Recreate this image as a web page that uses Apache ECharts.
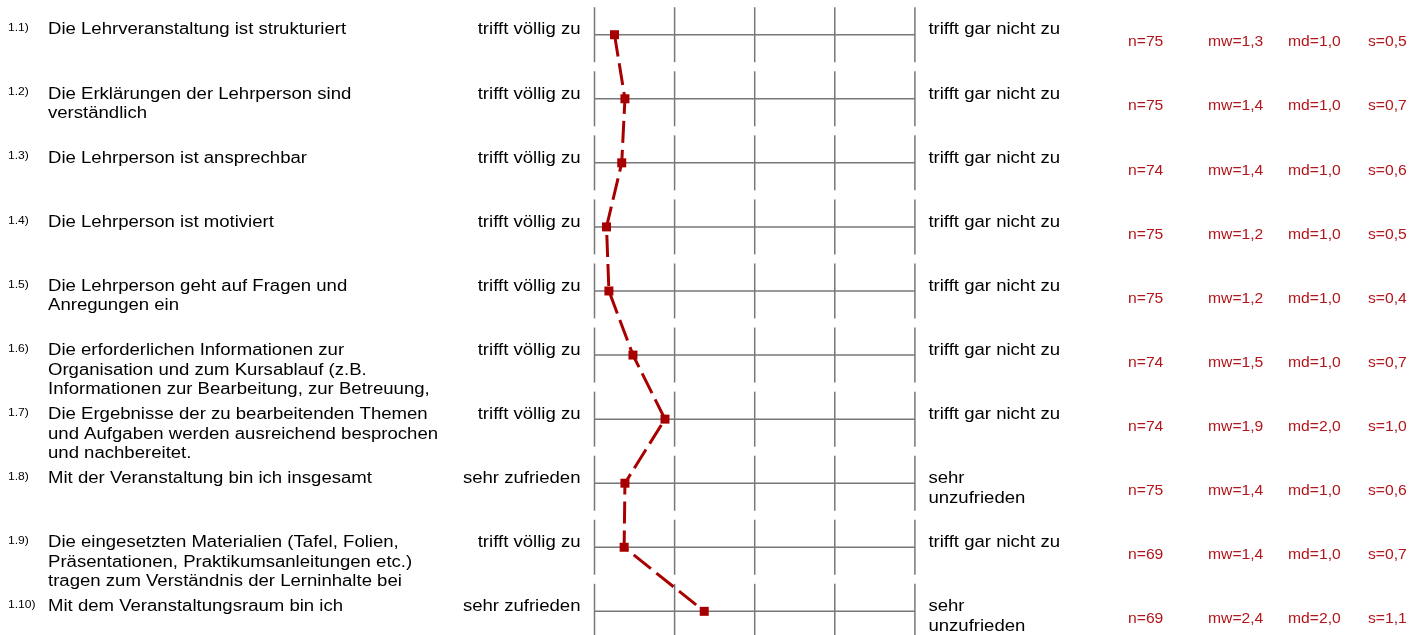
<!DOCTYPE html>
<html>
<head>
<meta charset="utf-8">
<script src="https://cdn.jsdelivr.net/npm/echarts@6/dist/echarts.min.js"></script>
<style>
html, body { margin: 0; padding: 0; background: #fff; }
#profile { width: 1410px; height: 635px; }
</style>
</head>
<body>
<div id="profile"></div>
<script>
// item numbers and question texts
var itemNo = ['1.1)', '1.2)', '1.3)', '1.4)', '1.5)', '1.6)', '1.7)', '1.8)', '1.9)', '1.10)'];
var itemText = [
    'Die Lehrveranstaltung ist strukturiert',
    'Die Erklärungen der Lehrperson sind\nverständlich',
    'Die Lehrperson ist ansprechbar',
    'Die Lehrperson ist motiviert',
    'Die Lehrperson geht auf Fragen und\nAnregungen ein',
    'Die erforderlichen Informationen zur\nOrganisation und zum Kursablauf (z.B.\nInformationen zur Bearbeitung, zur Betreuung,',
    'Die Ergebnisse der zu bearbeitenden Themen\nund Aufgaben werden ausreichend besprochen\nund nachbereitet.',
    'Mit der Veranstaltung bin ich insgesamt',
    'Die eingesetzten Materialien (Tafel, Folien,\nPräsentationen, Praktikumsanleitungen etc.)\ntragen zum Verständnis der Lerninhalte bei',
    'Mit dem Veranstaltungsraum bin ich'
];
// scale poles
var leftPole = ['trifft völlig zu', 'trifft völlig zu', 'trifft völlig zu', 'trifft völlig zu', 'trifft völlig zu',
                'trifft völlig zu', 'trifft völlig zu', 'sehr zufrieden', 'trifft völlig zu', 'sehr zufrieden'];
var rightPole = ['trifft gar nicht zu', 'trifft gar nicht zu', 'trifft gar nicht zu', 'trifft gar nicht zu', 'trifft gar nicht zu',
                 'trifft gar nicht zu', 'trifft gar nicht zu', 'sehr\nunzufrieden', 'trifft gar nicht zu', 'sehr\nunzufrieden'];
// 5-point scale
var scaleTicks = [1, 2, 3, 4, 5];
// mean position of each item
var means = [1.25, 1.38, 1.34, 1.15, 1.18, 1.48, 1.88, 1.38, 1.37, 2.37];
// statistics printed on the right
var nVals  = [75, 75, 74, 75, 75, 74, 74, 75, 69, 69];
var mwVals = ['1,3', '1,4', '1,4', '1,2', '1,2', '1,5', '1,9', '1,4', '1,4', '2,4'];
var mdVals = ['1,0', '1,0', '1,0', '1,0', '1,0', '1,0', '2,0', '1,0', '1,0', '2,0'];
var sVals  = ['0,5', '0,7', '0,6', '0,5', '0,4', '0,7', '1,0', '0,6', '0,7', '1,1'];

var rows = itemNo.map(function (d, i) { return i; });

var FONT = '"Liberation Sans", Arial, Helvetica, sans-serif';
var gridColor = '#777777';
var redText = '#b2151b';
var lineRed = '#a80000';
var SX = 1.16;   // text in the reference runs a bit wider than Arial

var chart = echarts.init(document.getElementById('profile'));

function txt(x, y, text, size, color, align, vAlign, sx) {
    return {
        type: 'text',
        x: x,
        y: y,
        scaleX: sx,
        style: {
            text: text,
            fill: color,
            fontSize: size,
            fontFamily: FONT,
            align: align,
            verticalAlign: vAlign,
            lineHeight: 19.7
        }
    };
}

function renderRow(params, api) {
    var i = params.dataIndex;
    var row = api.value(1);
    var pStart = api.coord([scaleTicks[0], row]);
    var pEnd = api.coord([scaleTicks[scaleTicks.length - 1], row]);
    var y = pStart[1];
    var kids = [];

    kids.push({
        type: 'line',
        shape: { x1: pStart[0], y1: y, x2: pEnd[0], y2: y },
        style: { stroke: gridColor, lineWidth: 1.5 }
    });
    scaleTicks.forEach(function (t) {
        var p = api.coord([t, row]);
        kids.push({
            type: 'line',
            shape: { x1: p[0], y1: y - 27.5, x2: p[0], y2: y + 27.5 },
            style: { stroke: gridColor, lineWidth: 1.5 }
        });
    });

    // left side: number + question
    kids.push(txt(8, y - 6.4, itemNo[i], 11, '#000', 'left', 'middle', 1.1));
    kids.push(txt(48, y - 14.5, itemText[i], 16, '#000', 'left', 'top', SX));
    // scale poles
    kids.push(txt(pStart[0] - 14, y - 14.5, leftPole[i], 16, '#000', 'right', 'top', SX));
    kids.push(txt(pEnd[0] + 13.5, y - 14.5, rightPole[i], 16, '#000', 'left', 'top', SX));
    // statistics
    var sy = y + 7.8;
    kids.push(txt(1128, sy, 'n=' + nVals[i], 14, redText, 'left', 'middle', 1.12));
    kids.push(txt(1208, sy, 'mw=' + mwVals[i], 14, redText, 'left', 'middle', 1.12));
    kids.push(txt(1288, sy, 'md=' + mdVals[i], 14, redText, 'left', 'middle', 1.12));
    kids.push(txt(1368, sy, 's=' + sVals[i], 14, redText, 'left', 'middle', 1.12));

    return { type: 'group', children: kids };
}

var option = {
    backgroundColor: '#ffffff',
    animation: false,
    grid: {
        left: 594.5,
        width: 320.4,
        top: 2.67,
        height: 640.7,
        outerBoundsMode: 'none'
    },
    xAxis: {
        type: 'value',
        min: 1,
        max: 5,
        interval: 1,
        show: false
    },
    yAxis: {
        type: 'category',
        data: itemNo,
        inverse: true,
        show: false
    },
    series: [
        {
            type: 'custom',
            silent: true,
            z: 1,
            renderItem: renderRow,
            encode: { x: 0, y: 1 },
            data: rows.map(function (i) { return [1, i]; })
        },
        {
            type: 'line',
            z: 5,
            silent: true,
            symbol: 'rect',
            symbolSize: 9,
            clip: false,
            itemStyle: { color: lineRed },
            lineStyle: { color: lineRed, width: 3, type: [22, 7] },
            data: means.map(function (m, i) { return [m, i]; })
        }
    ]
};
chart.setOption(option);
</script>
</body>
</html>
